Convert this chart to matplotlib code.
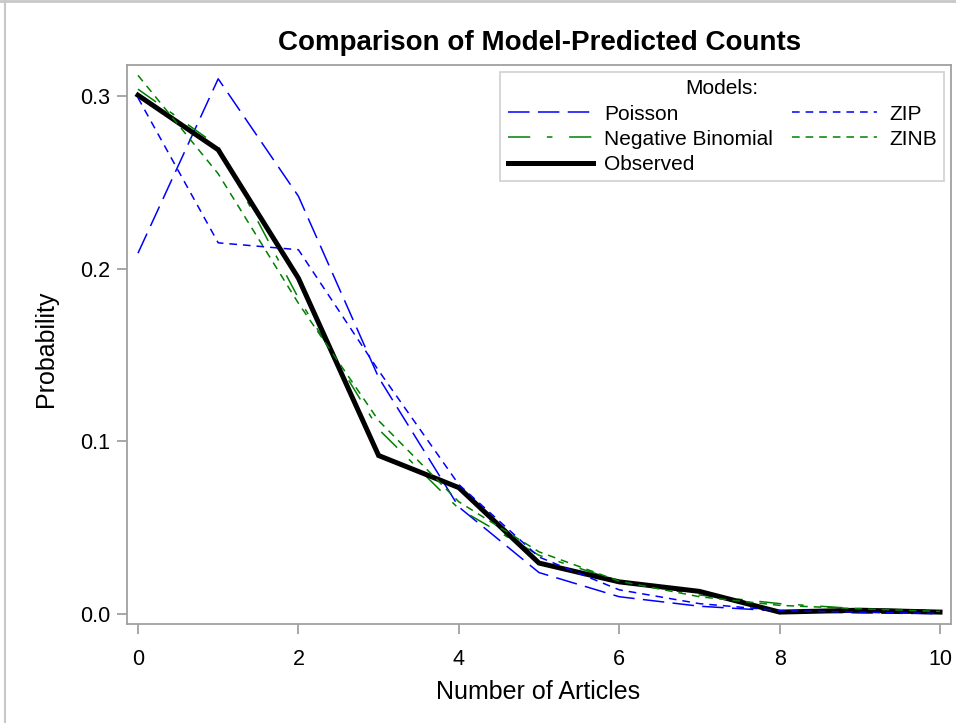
import matplotlib
matplotlib.use("Agg")
import matplotlib.pyplot as plt
from matplotlib.lines import Line2D

plt.rcParams['font.family'] = ['Liberation Sans', 'DejaVu Sans']
plt.rcParams['lines.scale_dashes'] = False

articles = [0, 1, 2, 3, 4, 5, 6, 7, 8, 9, 10]
poisson = [0.209, 0.310, 0.242, 0.137, 0.062, 0.024, 0.010, 0.0045, 0.0017, 0.0006, 0.0002]
zip_p = [0.299, 0.215, 0.211, 0.141, 0.075, 0.033, 0.014, 0.006, 0.002, 0.001, 0.0003]
negbin = [0.304, 0.271, 0.183, 0.107, 0.061, 0.034, 0.019, 0.011, 0.006, 0.003, 0.002]
zinb = [0.312, 0.255, 0.180, 0.112, 0.065, 0.036, 0.019, 0.010, 0.005, 0.003, 0.0015]
observed = [0.3005, 0.2689, 0.1945, 0.0918, 0.0732, 0.0295, 0.0186, 0.0131, 0.0011, 0.0022, 0.0011]

BLUE = '#0000FF'
GREEN = '#008000'
GRID = '#A0A0A0'

fig = plt.figure(figsize=(9.56, 7.23), dpi=100)
W, H = 956, 723
ax = fig.add_axes([127 / W, 1 - 624 / H, (951 - 127) / W, (624 - 65) / H])

LW = 1.1
ax.plot(articles, poisson, color=BLUE, lw=LW, dashes=(15.5, 6), label='Poisson')
ax.plot(articles, negbin, color=GREEN, lw=LW, dashes=(16, 12, 4, 12), label='Negative Binomial')
ax.plot(articles, observed, color='black', lw=3.6, label='Observed', solid_joinstyle='miter')
ax.plot(articles, zip_p, color=BLUE, lw=LW, dashes=(5.5, 4.3), label='ZIP')
ax.plot(articles, zinb, color=GREEN, lw=LW, dashes=(5.5, 4.3), label='ZINB')

ax.set_xlim(-0.137, 10.137)
ax.set_ylim(-0.0058, 0.318)
ax.set_xticks([0, 2, 4, 6, 8, 10])
ax.set_yticks([0.0, 0.1, 0.2, 0.3])
ax.set_yticklabels(['0.0', '0.1', '0.2', '0.3'])
for s in ax.spines.values():
    s.set_color(GRID)
    s.set_linewidth(1.3)
ax.tick_params(axis='both', colors=GRID, labelcolor='black', labelsize=15.5,
               length=7.2, width=1.3, direction='out')
ax.tick_params(axis='x', pad=10.5)
ax.tick_params(axis='y', pad=5)

fig.text(538 / W, 1 - 699 / H, 'Number of Articles', ha='center', va='baseline', fontsize=18)
fig.text(46 / W, 1 - 349 / H, 'Probability', ha='center', va='center', rotation=90, fontsize=18)
fig.text(540 / W, 1 - 50 / H, 'Comparison of Model-Predicted Counts', ha='center', va='baseline',
         fontsize=20, fontweight='bold')

leg = ax.legend(ncol=2, title='Models:', loc='upper right', bbox_to_anchor=(0.9915, 0.9875),
                fontsize=15, title_fontsize=15, frameon=True, fancybox=False,
                handlelength=4.1, columnspacing=0.9, borderpad=0.35, labelspacing=0.3,
                handletextpad=0.55, borderaxespad=0.0)
leg.get_frame().set_edgecolor('#C8C8C8')
leg.get_frame().set_linewidth(1.3)

# outer frame lines
fig.add_artist(Line2D([0, 1], [1 - 1 / H, 1 - 1 / H], color='#C8C8C8', lw=2, transform=fig.transFigure))
fig.add_artist(Line2D([5 / W, 5 / W], [0, 1], color='#C8C8C8', lw=1.5, transform=fig.transFigure))

fig.savefig('out.png', dpi=100)
